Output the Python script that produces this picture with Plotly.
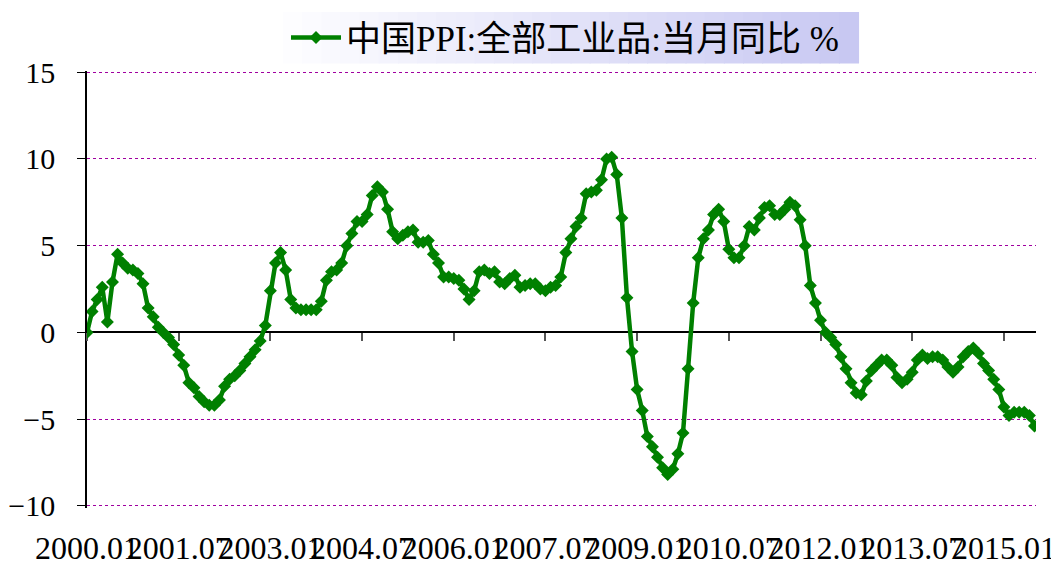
import plotly.graph_objects as go

# ---- data: China PPI (all industrial products), YoY %, monthly ----
years = list(range(2000, 2016))
ppi_2000 = [0.0, 1.2, 1.9, 2.6, 0.6, 2.9, 4.5, 4.0, 3.7, 3.6, 3.4, 2.8]
ppi_2001 = [1.4, 0.9, 0.3, 0.0, -0.3, -0.7, -1.3, -1.9, -2.9, -3.2, -3.7, -4.0]
ppi_2002 = [-4.2, -4.2, -3.9, -3.1, -2.7, -2.5, -2.2, -1.8, -1.4, -1.0, -0.5, 0.4]
ppi_2003 = [2.4, 4.0, 4.6, 3.6, 1.9, 1.4, 1.3, 1.3, 1.3, 1.3, 1.8, 3.0]
ppi_2004 = [3.5, 3.6, 4.0, 5.0, 5.7, 6.4, 6.4, 6.8, 7.9, 8.4, 8.1, 7.1]
ppi_2005 = [5.8, 5.4, 5.6, 5.8, 5.9, 5.2, 5.2, 5.3, 4.5, 4.0, 3.2, 3.2]
ppi_2006 = [3.1, 3.0, 2.5, 1.9, 2.4, 3.5, 3.6, 3.4, 3.5, 2.9, 2.8, 3.1]
ppi_2007 = [3.3, 2.6, 2.7, 2.8, 2.8, 2.5, 2.4, 2.6, 2.7, 3.2, 4.6, 5.4]
ppi_2008 = [6.1, 6.6, 8.0, 8.1, 8.2, 8.8, 10.0, 10.1, 9.1, 6.6, 2.0, -1.1]
ppi_2009 = [-3.3, -4.5, -6.0, -6.6, -7.2, -7.8, -8.2, -7.9, -7.0, -5.8, -2.1, 1.7]
ppi_2010 = [4.3, 5.4, 5.9, 6.8, 7.1, 6.4, 4.8, 4.3, 4.3, 5.0, 6.1, 5.9]
ppi_2011 = [6.6, 7.2, 7.3, 6.8, 6.8, 7.1, 7.5, 7.3, 6.5, 5.0, 2.7, 1.7]
ppi_2012 = [0.7, 0.0, -0.3, -0.7, -1.4, -2.1, -2.9, -3.5, -3.6, -2.8, -2.2, -1.9]
ppi_2013 = [-1.6, -1.6, -1.9, -2.6, -2.9, -2.7, -2.3, -1.6, -1.3, -1.5, -1.4, -1.4]
ppi_2014 = [-1.6, -2.0, -2.3, -2.0, -1.4, -1.1, -0.9, -1.2, -1.8, -2.2, -2.7, -3.3]
ppi_2015 = [-4.3, -4.8, -4.6, -4.6, -4.6, -4.8, -5.4]

yearly = [ppi_2000, ppi_2001, ppi_2002, ppi_2003, ppi_2004, ppi_2005, ppi_2006,
          ppi_2007, ppi_2008, ppi_2009, ppi_2010, ppi_2011, ppi_2012, ppi_2013,
          ppi_2014, ppi_2015]

months = []
values = []
for y, vals in zip(years, yearly):
    for m, v in enumerate(vals, start=1):
        months.append(f"{y}.{m:02d}")
        values.append(v)

tick_labels = ["2000.01", "2001.07", "2003.01", "2004.07", "2006.01", "2007.07",
               "2009.01", "2010.07", "2012.01", "2013.07", "2015.01"]
y_ticks = [-10, -5, 0, 5, 10, 15]
series_name = "中国PPI:全部工业品:当月同比 %"

GREEN = "#008000"
NUM_FONT = "Liberation Serif, Noto Sans CJK SC, serif"

# the page body adds an 8px offset; size the figure so it fills the window
OFF = 8
W, H = 1059 - OFF, 567 - OFF


def fx(px):
    return (px - OFF) / W


def fy(py):
    return 1 - (py - OFF) / H


# plot-area placement: -10 sits at py=505, 15 at py=66 (reference pixels)
pad = 0.1
y_range = [-10 - pad, 15 + pad]
ppu = (505 - 66) / 25.0
ydom = [fy(505 + pad * ppu), fy(66 - pad * ppu)]
xdom = [fx(87), fx(1036)]
zero_pos = ydom[0] + (0 - y_range[0]) / (y_range[1] - y_range[0]) * (ydom[1] - ydom[0])

fig = go.Figure()
fig.add_trace(go.Scatter(
    x=months, y=values, name=series_name, mode="lines+markers",
    line=dict(color=GREEN, width=4.5),
    marker=dict(symbol="diamond", size=10, color=GREEN),
    xaxis="x2", yaxis="y",
))
# invisible companion trace so the label axis renders
fig.add_trace(go.Scatter(
    x=months, y=values, mode="lines", line=dict(width=0), opacity=0,
    showlegend=False, hoverinfo="skip", xaxis="x", yaxis="y",
))

# legend background with a soft horizontal gradient
bx0, bx1 = fx(283), fx(858)
by0, by1 = fy(57), fy(5)
n = 30
c0 = (253, 253, 255)
c1 = (200, 200, 242)
shapes = []
for k in range(n):
    t = k / (n - 1)
    col = tuple(round(c0[j] + (c1[j] - c0[j]) * t) for j in range(3))
    shapes.append(dict(
        type="rect", xref="paper", yref="paper", layer="below",
        x0=bx0 + (bx1 - bx0) * k / n, x1=bx0 + (bx1 - bx0) * (k + 1) / n + 0.001,
        y0=by0, y1=by1, line=dict(width=0),
        fillcolor=f"rgb{col}",
    ))

fig.update_layout(
    width=W, height=H, autosize=False,
    margin=dict(l=0, r=0, t=0, b=0, pad=0),
    paper_bgcolor="white", plot_bgcolor="white",
    shapes=shapes,
    showlegend=True,
    legend=dict(
        xref="paper", yref="paper",
        x=fx(286), y=fy(31), xanchor="left", yanchor="middle",
        bgcolor="rgba(0,0,0,0)", borderwidth=0,
        font=dict(family=NUM_FONT, size=35, color="black"),
        itemwidth=50,
    ),
    xaxis=dict(
        domain=xdom, anchor="y",
        type="category", range=[0, 186.3],
        tickmode="array", tickvals=tick_labels, ticktext=tick_labels,
        tickangle=0, showline=False, ticks="", showgrid=False, zeroline=False,
        ticklabelstandoff=18, automargin=False,
        tickfont=dict(family=NUM_FONT, size=32, color="black"),
    ),
    xaxis2=dict(
        domain=xdom,
        type="category", overlaying="x", matches="x", anchor="free",
        position=zero_pos, side="bottom", range=[0, 186.3],
        tickmode="array", tickvals=tick_labels, showticklabels=False,
        showline=True, linecolor="black", linewidth=1.5,
        ticks="outside", ticklen=8, tickcolor="#555555", tickwidth=1.5,
        showgrid=False, zeroline=False, layer="below traces", automargin=False,
    ),
    yaxis=dict(
        domain=ydom, anchor="x",
        range=y_range, tickmode="array", tickvals=y_ticks,
        showline=True, linecolor="black", linewidth=1.5,
        ticks="outside", ticklen=8, tickcolor="black",
        showgrid=True, gridcolor="#a000a0", griddash="dot", gridwidth=1,
        zeroline=False, layer="below traces", automargin=False,
        ticklabelstandoff=16,
        tickfont=dict(family=NUM_FONT, size=30, color="black"),
    ),
)

fig.write_html("out.html")
